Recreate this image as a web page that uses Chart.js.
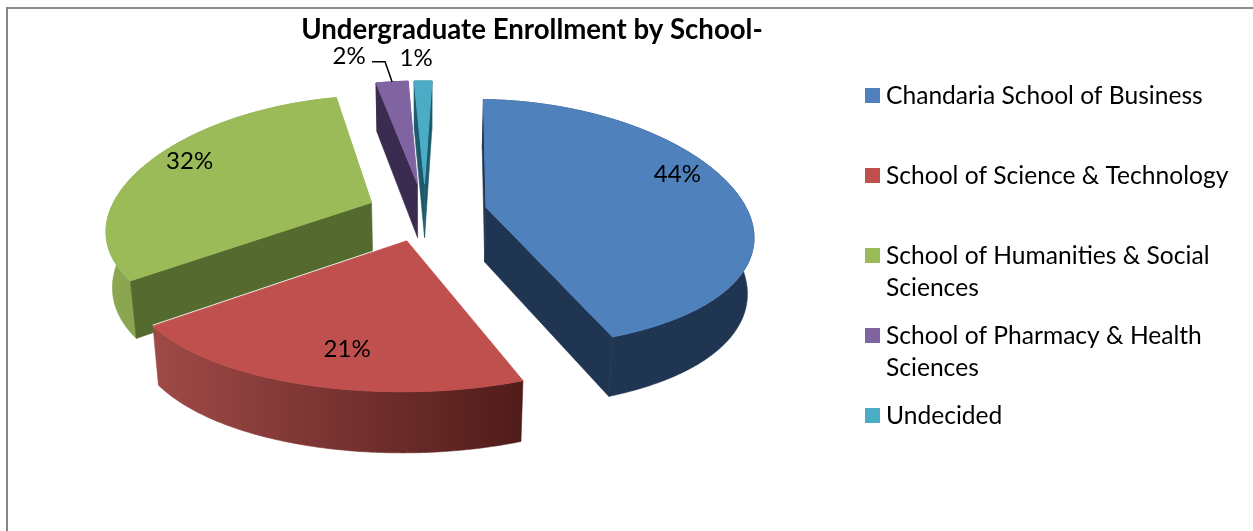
<!DOCTYPE html>
<html>
<head>
<meta charset="utf-8">
<title>Undergraduate Enrollment by School</title>
<script src="https://cdn.jsdelivr.net/npm/chart.js@4"></script>
<style>
  html, body { margin: 0; padding: 0; background: #fff; overflow: hidden; }
  #wrap { position: relative; width: 1253px; height: 531px; }
  #frame { position: absolute; left: 6px; top: 7px; right: 0; bottom: 0; border-left: 2px solid #868686; border-top: 2px solid #8c8c8c; }
  canvas { position: absolute; left: 0; top: 0; }
</style>
</head>
<body>
<div id="wrap">
  <div id="frame"></div>
  <canvas id="enrollChart" width="1253" height="531"></canvas>
</div>
<script>
const chartTitle = 'Undergraduate Enrollment by School-';
const schools = [
    ['Chandaria School of Business'],
    ['School of Science & Technology'],
    ['School of Humanities & Social', 'Sciences'],
    ['School of Pharmacy & Health', 'Sciences'],
    ['Undecided']
];
// the labels are rounded to 44, 21, 32, 2, 1; decimals
const shares = [43.7, 20.5, 32, 2.45, 1.35];

const topColors = ['#4F81BD', '#C0504D', '#9BBB59', '#8064A2', '#4BACC6'];
const edgeColors = ['#1F3552', '#5A2220', '#546A2E', '#3A2B50', '#1E5A6B'];
const rimLeft = ['#1F3552', '#A04A47', '#8BA750', '#3A2B50', '#1E5A6B'];
const rimRight = ['#1F3552', '#501C1A', '#7C9646', '#3A2B50', '#1E5A6B'];

// far slices first, so the near ones paint over them
const paintOrder = [3, 4, 2, 0, 1];

// tilt of the pie, Excel style: far side squeezed, near side stretched
const RX = 262, RY = 123, BX = 0.2, BY = 0.13, DEPTH = 55, DEPTH_TILT = 5, WALL_SHRINK = 0.98;
const FONT = 'Lato, Carlito, sans-serif';

// where the value label sits along the slice's middle, and a nudge from there
const labelReach = [0.75, 0.72, 0.72, 1, 1];
const labelNudge = [[5, -18], [8, 9], [-19, -11], [-43, -26], [-7, -23]];

function tilt(u, v) {
    return { x: RX * u / (1 - BX * v), y: RY * v / (1 - BY * v) };
}

function sliceGeom(arc) {
    const mid = (arc.startAngle + arc.endAngle) / 2;
    const e = arc.options.offset / arc.outerRadius;
    const eu = e * Math.cos(mid), ev = e * Math.sin(mid);
    const at = (a, r = 1) => {
        const u = eu + r * Math.cos(a), v = ev + r * Math.sin(a);
        const p = tilt(u, v);
        return { x: arc.x + p.x, y: arc.y + p.y, v };
    };
    const p0 = tilt(eu, ev);
    const apex = { x: arc.x + p0.x, y: arc.y + p0.y, v: ev };
    return { mid, apex, at };
}

// the foot of a wall under a point of the top face
function foot(arc, p) {
    return {
        x: arc.x + (p.x - arc.x) * WALL_SHRINK,
        y: p.y + DEPTH + DEPTH_TILT * p.v
    };
}

function sideFace(ctx, arc, g, edge, inner, color) {
    // only the walls that turn towards the viewer
    const ex = edge.x - g.apex.x, ey = edge.y - g.apex.y;
    const side = ex * (inner.y - g.apex.y) - ey * (inner.x - g.apex.x);
    if (side * ex >= 0) return;
    const a = foot(arc, edge), b = foot(arc, g.apex);
    ctx.fillStyle = color;
    ctx.strokeStyle = color;
    ctx.lineWidth = 0.6;
    ctx.beginPath();
    ctx.moveTo(g.apex.x, g.apex.y);
    ctx.lineTo(edge.x, edge.y);
    ctx.lineTo(a.x, a.y);
    ctx.lineTo(b.x, b.y);
    ctx.closePath();
    ctx.fill();
    ctx.stroke();
}

function drawSlice(ctx, arc, i) {
    const g = sliceGeom(arc);
    const steps = Math.max(4, Math.ceil((arc.endAngle - arc.startAngle) / 0.01));
    const rim = [];
    for (let s = 0; s <= steps; s++) {
        rim.push(g.at(arc.startAngle + (arc.endAngle - arc.startAngle) * s / steps));
    }
    const xs = rim.map(p => p.x);

    // outer wall
    const grad = ctx.createLinearGradient(Math.min(...xs), 0, Math.max(...xs), 0);
    grad.addColorStop(0, rimLeft[i]);
    grad.addColorStop(1, rimRight[i]);
    ctx.fillStyle = grad;
    ctx.strokeStyle = grad;
    ctx.lineWidth = 0.6;
    ctx.beginPath();
    rim.forEach((p, k) => (k ? ctx.lineTo(p.x, p.y) : ctx.moveTo(p.x, p.y)));
    rim.slice().reverse().forEach(p => {
        const f = foot(arc, p);
        ctx.lineTo(f.x, f.y);
    });
    ctx.closePath();
    ctx.fill();
    ctx.stroke();

    // cut walls
    const inner = g.at(g.mid);
    sideFace(ctx, arc, g, rim[0], inner, edgeColors[i]);
    sideFace(ctx, arc, g, rim[steps], inner, edgeColors[i]);

    // white hairline where the red slice lies over the green wall
    if (i === 1) {
        ctx.strokeStyle = 'rgba(255,255,255,0.85)';
        ctx.lineWidth = 3;
        ctx.beginPath();
        ctx.moveTo(g.apex.x, g.apex.y);
        ctx.lineTo(rim[steps].x, rim[steps].y);
        ctx.stroke();
    }

    // top face, stroked too so the wall's edge does not show around it
    ctx.fillStyle = topColors[i];
    ctx.strokeStyle = topColors[i];
    ctx.lineWidth = 1;
    ctx.beginPath();
    ctx.moveTo(g.apex.x, g.apex.y);
    rim.forEach(p => ctx.lineTo(p.x, p.y));
    ctx.closePath();
    ctx.fill();
    ctx.stroke();
}

const tiltedPie = {
    id: 'tiltedPie',
    beforeDatasetsDraw(chart) {
        const ctx = chart.ctx;
        const arcs = chart.getDatasetMeta(0).data;
        ctx.save();
        paintOrder.forEach(i => drawSlice(ctx, arcs[i], i));
        ctx.restore();
        return false; // the flat arcs are replaced by the tilted ones
    },
    afterDraw(chart) {
        const ctx = chart.ctx;
        const arcs = chart.getDatasetMeta(0).data;
        ctx.save();
        ctx.fillStyle = '#000';
        ctx.textBaseline = 'middle';

        // title
        ctx.font = 'bold 27.6px ' + FONT;
        ctx.textAlign = 'center';
        ctx.fillText(chartTitle, 532, 30);

        // value labels
        ctx.font = '24px ' + FONT;
        arcs.forEach((arc, i) => {
            const g = sliceGeom(arc);
            const p = g.at(g.mid, labelReach[i]);
            ctx.fillText(Math.round(shares[i]) + '%', p.x + labelNudge[i][0], p.y + labelNudge[i][1]);
        });

        // leader of the 2% label
        const g = sliceGeom(arcs[3]);
        const tip = g.at(g.mid);
        ctx.strokeStyle = '#000';
        ctx.lineWidth = 1.5;
        ctx.beginPath();
        ctx.moveTo(tip.x - 20, tip.y - 20);
        ctx.lineTo(tip.x - 7, tip.y - 20);
        ctx.lineTo(tip.x, tip.y);
        ctx.stroke();

        // legend
        const rows = [95, 175, 255, 335, 415];
        ctx.font = '24.6px ' + FONT;
        ctx.textAlign = 'left';
        schools.forEach((lines, i) => {
            ctx.fillStyle = topColors[i];
            ctx.fillRect(865, rows[i] - 7, 15, 15);
            ctx.fillStyle = '#000';
            lines.forEach((line, k) => ctx.fillText(line, 886, rows[i] + 1 + k * 32));
        });
        ctx.restore();
    }
};

new Chart(document.getElementById('enrollChart'), {
    type: 'pie',
    data: {
        labels: schools.map(s => s.join(' ')),
        datasets: [{
            data: shares,
            backgroundColor: topColors,
            borderWidth: 0,
            offset: [45, 45, 42, 45, 45]
        }]
    },
    options: {
        responsive: false,
        animation: false,
        rotation: 2,
        layout: { padding: { left: 213, right: 616, top: 0, bottom: 107 } },
        plugins: {
            legend: { display: false },
            title: { display: false },
            tooltip: { enabled: false }
        }
    },
    plugins: [tiltedPie]
});
</script>
</body>
</html>
